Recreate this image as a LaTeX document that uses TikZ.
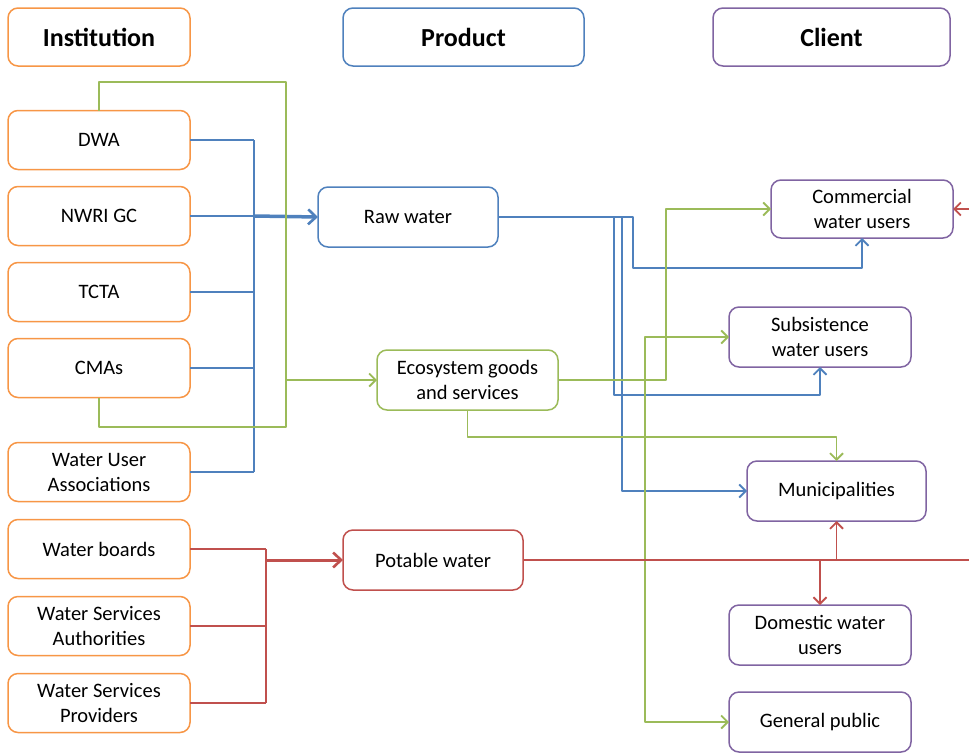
\documentclass[tikz,border=0pt]{standalone}
\usepackage{fontspec}
\setmainfont{Carlito}
\usetikzlibrary{positioning}
\usetikzlibrary{arrows.meta}

\definecolor{instorange}{HTML}{F79646}
\definecolor{prodblue}{HTML}{4F81BD}
\definecolor{ecogreen}{HTML}{9BBB59}
\definecolor{potred}{HTML}{C0504D}
\definecolor{clientpurple}{HTML}{8064A2}

\begin{document}
\begin{tikzpicture}[x=1pt, y=-1pt,
		box/.style={draw, rounded corners=10pt, line width=1.5pt, fill=white, align=center, inner sep=0pt, outer sep=0pt, minimum width=182pt, minimum height=59pt, font=\fontsize{20.5}{25}\selectfont},
		head/.style={box, minimum height=58pt, font=\fontsize{26}{30}\selectfont\bfseries},
		inst/.style={box, draw=instorange},
		prod/.style={box, draw=prodblue, minimum width=180pt, minimum height=60pt},
		client/.style={box, draw=clientpurple, minimum height=60pt},
		wire/.style={line width=1.7pt, line join=round},
		tip/.style={-{Straight Barb[length=6.5pt, width=13pt, line width=1.8pt]}},
		bigtip/.style={-{Straight Barb[length=8pt, width=15pt, line width=2.6pt]}}]
		\clip (0,0) rectangle (969,753);
		
		\node[head, draw=instorange] (insthead) at (99,37) {Institution};
		\node[head, draw=prodblue, minimum width=241pt] (prodhead) at (463.5,37) {Product};
		\node[head, draw=clientpurple, minimum width=237pt] (clienthead) at (831.5,37) {Client};
		
		\node[inst] (dwa) at (99,140) {DWA};
		\node[inst, below = 17pt of dwa] (nwri) {NWRI GC};
		\node[inst, below = 17pt of nwri] (tcta) {TCTA};
		\node[inst, below = 17pt of tcta] (cmas) {CMAs};
		\node[inst, below = 45pt of cmas] (wua) {Water User\\Associations};
		\node[inst, below = 18pt of wua] (wb) {Water boards};
		\node[inst, below = 18pt of wb] (wsa) {Water Services\\Authorities};
		\node[inst, below = 18pt of wsa] (wsp) {Water Services\\Providers};
		
		\node[prod] (raw) at (408,217) {Raw water};
		\node[prod, draw=ecogreen, minimum width=181pt] (eco) at (467.5,380) {Ecosystem goods\\and services};
		\node[prod, draw=potred] (pot) at (433,560) {Potable water};
		
		\node[client, minimum height=58pt] (com) at (862,209) {Commercial\\water users};
		\node[client] (sub) at (820,337) {Subsistence\\water users};
		\node[client, minimum width=179pt] (mun) at (836.5,491) {Municipalities};
		\node[client] (dom) at (820,635) {Domestic water\\users};
		\node[client] (gen) at (820,722) {General public};
		
		\coordinate (bb) at (254,0);
		\coordinate (gtop) at (286,82);
		\coordinate (gbot) at (286,427);
		\coordinate (rb) at (266,0);
		\coordinate (bc) at (633,268);
		\coordinate (bs) at (614,395);
		\coordinate (bm) at (622,0);
		\coordinate (gc) at (666,0);
		\coordinate (gs) at (645,0);
		\coordinate (gm) at (0,437);
		\coordinate (redfar) at (995,0);
		
		\foreach \n in {dwa,nwri,tcta,cmas,wua}
			\draw[wire, prodblue] (\n.east) -- (\n.east -| bb);
		\draw[wire, prodblue] (dwa.east -| bb) -- (wua.east -| bb);
		\draw[wire, prodblue, line width=3.5pt, bigtip] (nwri.east -| bb) -- (raw.west);
		
		\draw[wire, ecogreen] (dwa.north) |- (gtop) -- (gbot) -| (cmas.south);
		\draw[wire, ecogreen, line width=2.2pt, tip] (eco.west -| gtop) -- (eco.west);
		
		\foreach \n in {wb,wsa,wsp}
			\draw[wire, potred] (\n.east) -- (\n.east -| rb);
		\draw[wire, potred] (wb.east -| rb) -- (wsp.east -| rb);
		\draw[wire, potred, line width=3pt, bigtip] (pot.west -| rb) -- (pot.west);
		
		\draw[wire, prodblue, tip] (raw.east) -| (bc) -| (com.south);
		\draw[wire, prodblue, tip] (raw.east) -| (bs) -| (sub.south);
		\draw[wire, prodblue, tip] (raw.east) -| (bm |- mun.west) -- (mun.west);
		
		\draw[wire, ecogreen, tip] (eco.east) -| (gc |- com.west) -- (com.west);
		\draw[wire, ecogreen, tip] (eco.east) -- (gs |- eco.east) |- (sub.west);
		\draw[wire, ecogreen, tip] (gs |- eco.east) |- (gen.west);
		\draw[wire, ecogreen, tip] (eco.south) -- (eco.south |- gm) -| (mun.north);
		
		\draw[wire, potred, tip] (pot.east) -- (pot.east -| redfar) |- (com.east);
		\draw[wire, potred, tip] (mun.south |- pot.east) -- (mun.south);
		\draw[wire, potred, tip] (dom.north |- pot.east) -- (dom.north);
	\end{tikzpicture}
\end{document}
